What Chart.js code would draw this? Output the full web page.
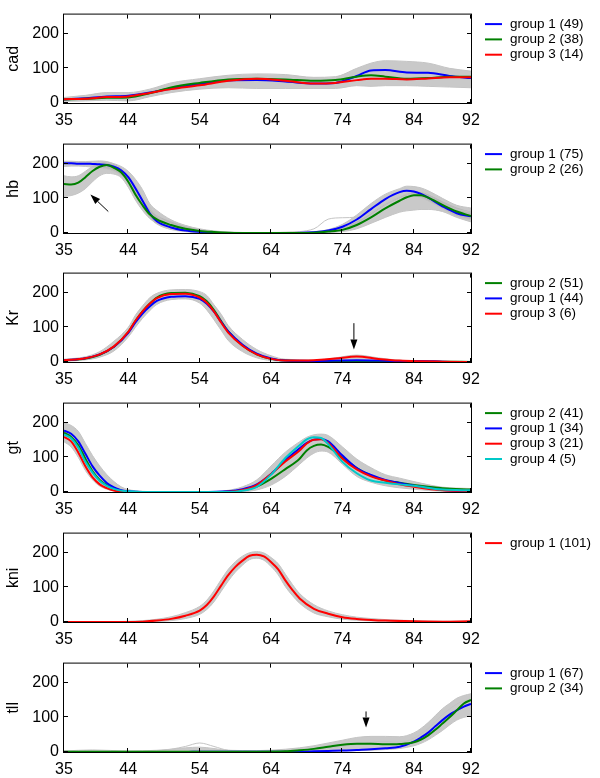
<!DOCTYPE html>
<html>
<head>
<meta charset="utf-8">
<script src="https://cdn.jsdelivr.net/npm/chart.js@4.4.0/dist/chart.umd.min.js"></script>
<style>
  html, body { margin: 0; padding: 0; background: #fff; }
  #wrap { position: relative; width: 600px; height: 778px; }
  #wrap canvas { position: absolute; left: 0; }
</style>
</head>
<body>
<div id="wrap"></div>
<script>
// ---- data ----
const xTicks = [35, 44, 54, 64, 74, 84, 92];
const yTicks = [0, 100, 200];

// cad
const cadX  = [35,38,41,44,47,50,54,58,62,66,70,73,76,78,80,83,86,89,92];
const cadG1 = [10,14,19,21,30,42,55,65,66,62,56,58,78,94,95,88,87,78,72];
const cadG2 = [10,12,15,16,28,45,58,68,70,68,64,66,76,80,76,70,72,76,76];
const cadG3 = [11,12,17,19,29,40,51,64,70,64,56,58,66,70,70,68,71,74,74];
const cadHi = [16,22,30,30,40,58,70,80,84,82,74,76,100,115,122,120,115,100,92];
const cadLo = [5,6,8,6,18,30,40,44,42,42,42,42,50,48,50,50,48,46,44];
const cadLabels = ['group 1 (49)', 'group 2 (38)', 'group 3 (14)'];

// hb
const hbX   = [35,36,37,38,39,40,41,42,43,44,45,46,47,48,50,52,54,56,58,62,66,70,72,74,76,78,80,82,83,84,85,86,88,90,92];
const hbG1  = [201,201,200,200,199,198,196,191,181,161,129,93,57,34,16,7,3,1,0,0,0,2,7,18,39,69,98,118,122,120,113,102,77,57,48];
const hbG2  = [141,140,145,161,179,191,196,188,175,148,111,80,54,39,23,12,6,3,1,0,0,1,4,9,23,45,71,93,103,109,109,102,81,62,49];
const hbAHi = [207,207,206,206,207,208,206,200,192,178,155,125,85,65,38,22,12,6,3,1,2,4,10,25,52,85,112,128,135,134,130,122,100,80,72];
const hbALo = [192,193,193,192,190,188,185,178,166,145,110,75,45,26,10,4,1,0,0,0,0,0,1,8,25,52,80,100,106,106,102,92,70,48,38];
const hbBHi = [165,162,165,178,192,200,204,198,185,162,128,95,68,50,32,18,10,5,2,0,0,2,6,14,32,55,82,102,112,116,116,110,90,72,60];
const hbBLo = [105,108,115,128,148,165,172,170,160,132,95,65,42,28,15,7,3,1,0,0,0,0,1,4,12,28,45,60,64,66,68,68,62,45,32];
const hbOut = [205,205,204,204,205,206,204,196,186,168,138,105,75,50,25,12,5,2,1,0,2,12,40,44,46,60,85,105,112,112,108,100,82,68,60];
const hbLabels = ['group 1 (75)', 'group 2 (26)'];

// Kr
const krX  = [35,38,40,42,44,45,46,47,48,50,52,54,55,56,57,58,60,62,64,66,70,73,76,79,82,85,88,92];
const krG2 = [4,10,21,44,86,118,146,168,186,199,200,190,175,150,118,88,48,22,9,4,2,2,2,2,2,1,1,0];
const krG1 = [5,11,22,44,84,114,140,160,176,188,190,182,168,145,116,88,50,24,10,4,3,4,5,4,3,3,1,0];
const krG3 = [5,11,22,45,87,119,146,168,184,196,197,186,171,146,114,85,47,22,9,4,5,10,16,9,4,2,1,0];
const krHi = [8,15,30,60,100,135,162,185,198,208,209,203,192,165,138,105,65,36,18,8,6,12,20,12,5,3,2,1];
const krLo = [2,6,14,32,72,100,126,148,166,180,182,170,150,122,92,62,30,12,4,1,0,0,0,0,0,0,0,0];
const krLabels = ['group 2 (51)', 'group 1 (44)', 'group 3 (6)'];

// gt
const gtX  = [35,36,37,38,39,40,41,42,43,44,46,50,54,58,60,62,64,66,68,69,70,71,72,74,76,78,80,82,84,88,92];
const gtG2 = [171,159,135,96,60,35,20,11,4,1,0,0,0,1,5,16,38,66,96,120,133,137,130,99,69,47,33,27,20,11,7];
const gtG1 = [177,168,146,110,74,47,26,13,5,2,0,0,0,2,8,22,52,92,126,142,151,153,146,105,69,49,35,26,18,6,2];
const gtG3 = [159,146,114,74,42,22,11,4,1,0,0,0,0,1,6,20,52,88,120,140,151,152,141,96,65,45,33,22,15,5,3];
const gtG4 = [166,155,128,87,56,32,18,9,4,2,0,0,0,0,4,15,50,98,135,152,158,156,138,87,54,33,27,22,18,7,5];
const gtHi = [200,192,175,140,105,75,50,30,15,7,2,0,0,5,15,35,75,115,145,158,165,167,163,130,95,70,50,40,30,14,10];
const gtLo = [145,130,100,62,35,17,8,3,1,0,0,0,0,0,1,6,20,45,80,98,112,118,115,80,45,28,18,12,8,2,1];
const gtLabels = ['group 2 (41)', 'group 1 (34)', 'group 3 (21)', 'group 4 (5)'];

// kni
const kniX  = [35,40,44,46,48,50,52,54,55,56,57,58,59,60,61,62,63,64,65,66,67,68,70,72,74,76,78,80,84,88,92];
const kniG1 = [0,0,0,1,4,9,18,33,49,74,105,135,159,177,191,194,189,173,152,120,92,68,38,24,14,9,6,4,2,1,2];
const kniHi = [1,1,2,4,8,15,27,45,63,90,122,152,174,190,200,203,199,186,168,138,108,82,50,32,21,14,10,7,4,2,3];
const kniLo = [0,0,0,0,1,4,10,22,36,58,88,118,144,164,180,184,178,160,136,102,76,54,26,15,8,5,3,2,1,0,1];
const kniLabels = ['group 1 (101)'];

// tll
const tllX   = [35,39,44,48,50,52,54,56,58,62,66,68,70,72,74,76,78,80,82,84,85,86,87,88,89,90,91,92];
const tllG1  = [0,0,0,0,0,0,1,1,1,1,1,1,2,3,4,6,8,11,15,30,42,56,74,92,108,120,131,139];
const tllG2  = [1,1,1,1,1,1,1,1,1,1,2,5,9,15,21,24,24,22,23,28,36,48,64,82,100,120,140,150];
const tllHi  = [3,6,3,5,8,12,14,10,5,4,8,12,18,26,34,42,45,45,44,55,68,85,105,125,140,155,163,168];
const tllLo  = [0,0,0,0,0,0,0,0,0,0,0,0,1,2,3,4,5,7,10,18,25,35,48,62,78,92,100,104];
const tllOut = [0,2,2,3,8,16,26,16,5,2,3,4,6,10,16,22,28,30,28,40,52,68,88,108,124,138,148,152];
const tllLabels = ['group 1 (67)', 'group 2 (34)'];

// ---- styles ----
const COL = { blue: '#0000ff', green: '#008000', red: '#ff0000', cyan: '#00c8c8' };
const GRAY_FILL = 'rgba(178,178,178,0.7)';
const GRAY_LINE = '#c4c4c4';
const FONT = '"Liberation Sans", Arial, Helvetica, sans-serif';

const panels = [
  { title: 'cad', xs: cadX, bands: [[cadHi, cadLo]], gray: [],
    groups: [[cadLabels[0], cadG1, COL.blue], [cadLabels[1], cadG2, COL.green], [cadLabels[2], cadG3, COL.red]] },
  { title: 'hb', xs: hbX, bands: [[hbAHi, hbALo], [hbBHi, hbBLo]], gray: [hbOut],
    groups: [[hbLabels[0], hbG1, COL.blue], [hbLabels[1], hbG2, COL.green]],
    arrow: { from: [41.2, 62], to: [38.7, 111] } },
  { title: 'Kr', xs: krX, bands: [[krHi, krLo]], gray: [],
    groups: [[krLabels[0], krG2, COL.green], [krLabels[1], krG1, COL.blue], [krLabels[2], krG3, COL.red]],
    arrow: { from: [75.6, 112], to: [75.6, 36] } },
  { title: 'gt', xs: gtX, bands: [[gtHi, gtLo]], gray: [],
    groups: [[gtLabels[0], gtG2, COL.green], [gtLabels[1], gtG1, COL.blue], [gtLabels[2], gtG3, COL.red], [gtLabels[3], gtG4, COL.cyan]] },
  { title: 'kni', xs: kniX, bands: [[kniHi, kniLo]], gray: [],
    groups: [[kniLabels[0], kniG1, COL.red]] },
  { title: 'tll', xs: tllX, bands: [[tllHi, tllLo]], gray: [tllOut],
    groups: [[tllLabels[0], tllG1, COL.blue], [tllLabels[1], tllG2, COL.green]],
    arrow: { from: [77.3, 117], to: [77.3, 71] } }
];
const panelTops = [0, 130, 259, 389, 519, 649];

function pts(xs, ys) { return xs.map((x, i) => ({ x: x, y: ys[i] })); }

// box with inward ticks, right-hand legend, arrows
const framePlugin = {
  id: 'frame',
  afterDatasetsDraw(chart, args, opts) {
    const { ctx, chartArea: a, scales: { x, y } } = chart;
    ctx.save();
    ctx.strokeStyle = '#000';
    ctx.lineWidth = 1;
    ctx.strokeRect(a.left - 0.5, a.top - 0.5, a.right - a.left + 1, a.bottom - a.top + 1);
    ctx.beginPath();
    xTicks.forEach(v => {
      const px = Math.round(x.getPixelForValue(v)) - 0.5;
      ctx.moveTo(px, a.bottom); ctx.lineTo(px, a.bottom - 4);
      ctx.moveTo(px, a.top); ctx.lineTo(px, a.top + 4);
    });
    yTicks.forEach(v => {
      const py = Math.round(y.getPixelForValue(v)) - 0.5;
      ctx.moveTo(a.left, py); ctx.lineTo(a.left + 4, py);
      ctx.moveTo(a.right, py); ctx.lineTo(a.right - 4, py);
    });
    ctx.stroke();

    // legend
    const items = chart.data.datasets.filter(d => d.label);
    ctx.font = '13.5px ' + FONT;
    ctx.textBaseline = 'middle';
    ctx.textAlign = 'left';
    items.forEach((d, i) => {
      const yy = a.top + 9.5 + i * 15.3;
      ctx.strokeStyle = d.borderColor;
      ctx.lineWidth = 2;
      ctx.beginPath();
      ctx.moveTo(a.right + 14, yy); ctx.lineTo(a.right + 31, yy);
      ctx.stroke();
      ctx.fillStyle = '#000';
      ctx.fillText(d.label, a.right + 39, yy);
    });

    // arrow
    if (opts.arrow) {
      const x0 = x.getPixelForValue(opts.arrow.from[0]), y0 = y.getPixelForValue(opts.arrow.from[1]);
      const x1 = x.getPixelForValue(opts.arrow.to[0]), y1 = y.getPixelForValue(opts.arrow.to[1]);
      const ang = Math.atan2(y1 - y0, x1 - x0);
      const len = 10, hw = 3.5;
      const bx = x1 - len * Math.cos(ang), by = y1 - len * Math.sin(ang);
      ctx.strokeStyle = '#000';
      ctx.fillStyle = '#000';
      ctx.lineWidth = 1;
      ctx.beginPath();
      ctx.moveTo(x0, y0); ctx.lineTo(bx, by);
      ctx.stroke();
      ctx.beginPath();
      ctx.moveTo(x1, y1);
      ctx.lineTo(bx + hw * Math.sin(ang), by - hw * Math.cos(ang));
      ctx.lineTo(bx - hw * Math.sin(ang), by + hw * Math.cos(ang));
      ctx.closePath();
      ctx.fill();
    }
    ctx.restore();
  }
};

Chart.defaults.font.family = FONT;
Chart.defaults.color = '#000';

const wrap = document.getElementById('wrap');
panels.forEach((p, idx) => {
  const cv = document.createElement('canvas');
  cv.width = 600; cv.height = 129;
  cv.style.top = panelTops[idx] + 'px';
  wrap.appendChild(cv);

  const datasets = [];
  p.bands.forEach(b => {
    datasets.push({ data: pts(p.xs, b[0]), borderColor: GRAY_LINE, borderWidth: 1, fill: false, order: 100 });
    datasets.push({ data: pts(p.xs, b[1]), borderColor: GRAY_LINE, borderWidth: 1, fill: '-1', backgroundColor: GRAY_FILL, order: 100 });
  });
  p.gray.forEach(g => {
    datasets.push({ data: pts(p.xs, g), borderColor: GRAY_LINE, borderWidth: 1, fill: false, order: 90 });
  });
  p.groups.forEach((g, i) => {
    datasets.push({ label: g[0], data: pts(p.xs, g[1]), borderColor: g[2], borderWidth: 2, fill: false, order: 50 - i });
  });

  new Chart(cv.getContext('2d'), {
    type: 'line',
    data: { datasets: datasets },
    options: {
      responsive: false,
      animation: false,
      events: [],
      layout: { padding: { top: 9, right: 129, left: 0, bottom: 0 } },
      elements: { point: { radius: 0 }, line: { cubicInterpolationMode: 'monotone' } },
      plugins: { legend: { display: false }, tooltip: { enabled: false }, frame: { arrow: p.arrow || null } },
      scales: {
        x: {
          type: 'linear', min: 35, max: 92,
          afterBuildTicks: s => { s.ticks = xTicks.map(v => ({ value: v })); },
          afterFit: s => { s.height = 26; },
          ticks: { font: { size: 16 }, padding: 8, autoSkip: false, maxRotation: 0 },
          grid: { display: false, drawTicks: false },
          border: { display: false }
        },
        y: {
          min: 0, max: 255,
          afterBuildTicks: s => { s.ticks = yTicks.map(v => ({ value: v })); },
          afterFit: s => { s.width = 64; },
          ticks: { font: { size: 16 }, padding: 5 },
          grid: { display: false, drawTicks: false },
          border: { display: false },
          title: { display: true, text: p.title, font: { size: 16 }, padding: { top: 4, bottom: 0 } }
        }
      }
    },
    plugins: [framePlugin]
  });
});
</script>
</body>
</html>
